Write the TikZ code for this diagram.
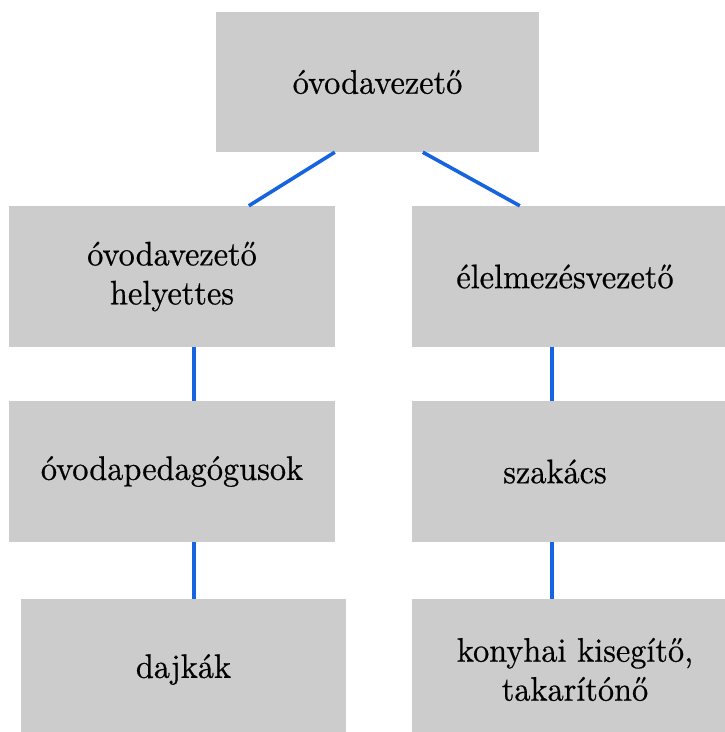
\documentclass[tikz,border=0pt]{standalone}
\usepackage{fontspec}
\newfontfamily\chartfont{lmroman10-regular.otf}[FakeStretch=0.95,FakeBold=0.6]
\definecolor{boxgray}{RGB}{204,204,204}
\definecolor{linkblue}{RGB}{22,100,224}
\begin{document}
\begin{tikzpicture}[x=1pt,y=-1pt,
  orgbox/.style={fill=boxgray, draw=none, inner sep=0pt,
    minimum width=#1, minimum height=141pt, align=center,
    font=\chartfont\fontsize{34}{39}\selectfont},
  orgbox/.default=326pt,
  link/.style={draw=linkblue, line width=3.6pt}]
  \useasboundingbox (0,0) rectangle (724,732);
  % boxes of the organisation chart
  \node[orgbox=323pt, minimum height=140pt] (head) at (377.5,82) {óvodavezető};
  \node[orgbox] (deputy) at (172,276.5) {óvodavezető\\helyettes};
  \node[orgbox] (catering) at (575,276.5) {\hspace*{-20pt}élelmezésvezető};
  \node[orgbox] (teachers) at (172,471.5) {óvodapedagógusok};
  \node[orgbox] (cook) at (575,471.5) {\hspace*{-40pt}szakács};
  \node[orgbox=325pt] (nannies) at (183.5,669.5) {dajkák};
  \node[orgbox] (kitchen) at (575,669.5) {konyhai kisegítő,\\takarítónő};
  % connectors
  \draw[link] ([xshift=119pt]head.south west) -- ([xshift=240pt]deputy.north west);
  \draw[link] ([xshift=207pt]head.south west) -- ([xshift=108pt]catering.north west);
  \draw[link] ([xshift=185pt]deputy.south west) -- ([xshift=185pt]teachers.north west);
  \draw[link] ([xshift=185pt]teachers.south west) -- ([xshift=173pt]nannies.north west);
  \draw[link] ([xshift=140pt]catering.south west) -- ([xshift=140pt]cook.north west);
  \draw[link] ([xshift=140pt]cook.south west) -- ([xshift=140pt]kitchen.north west);
\end{tikzpicture}
\end{document}
